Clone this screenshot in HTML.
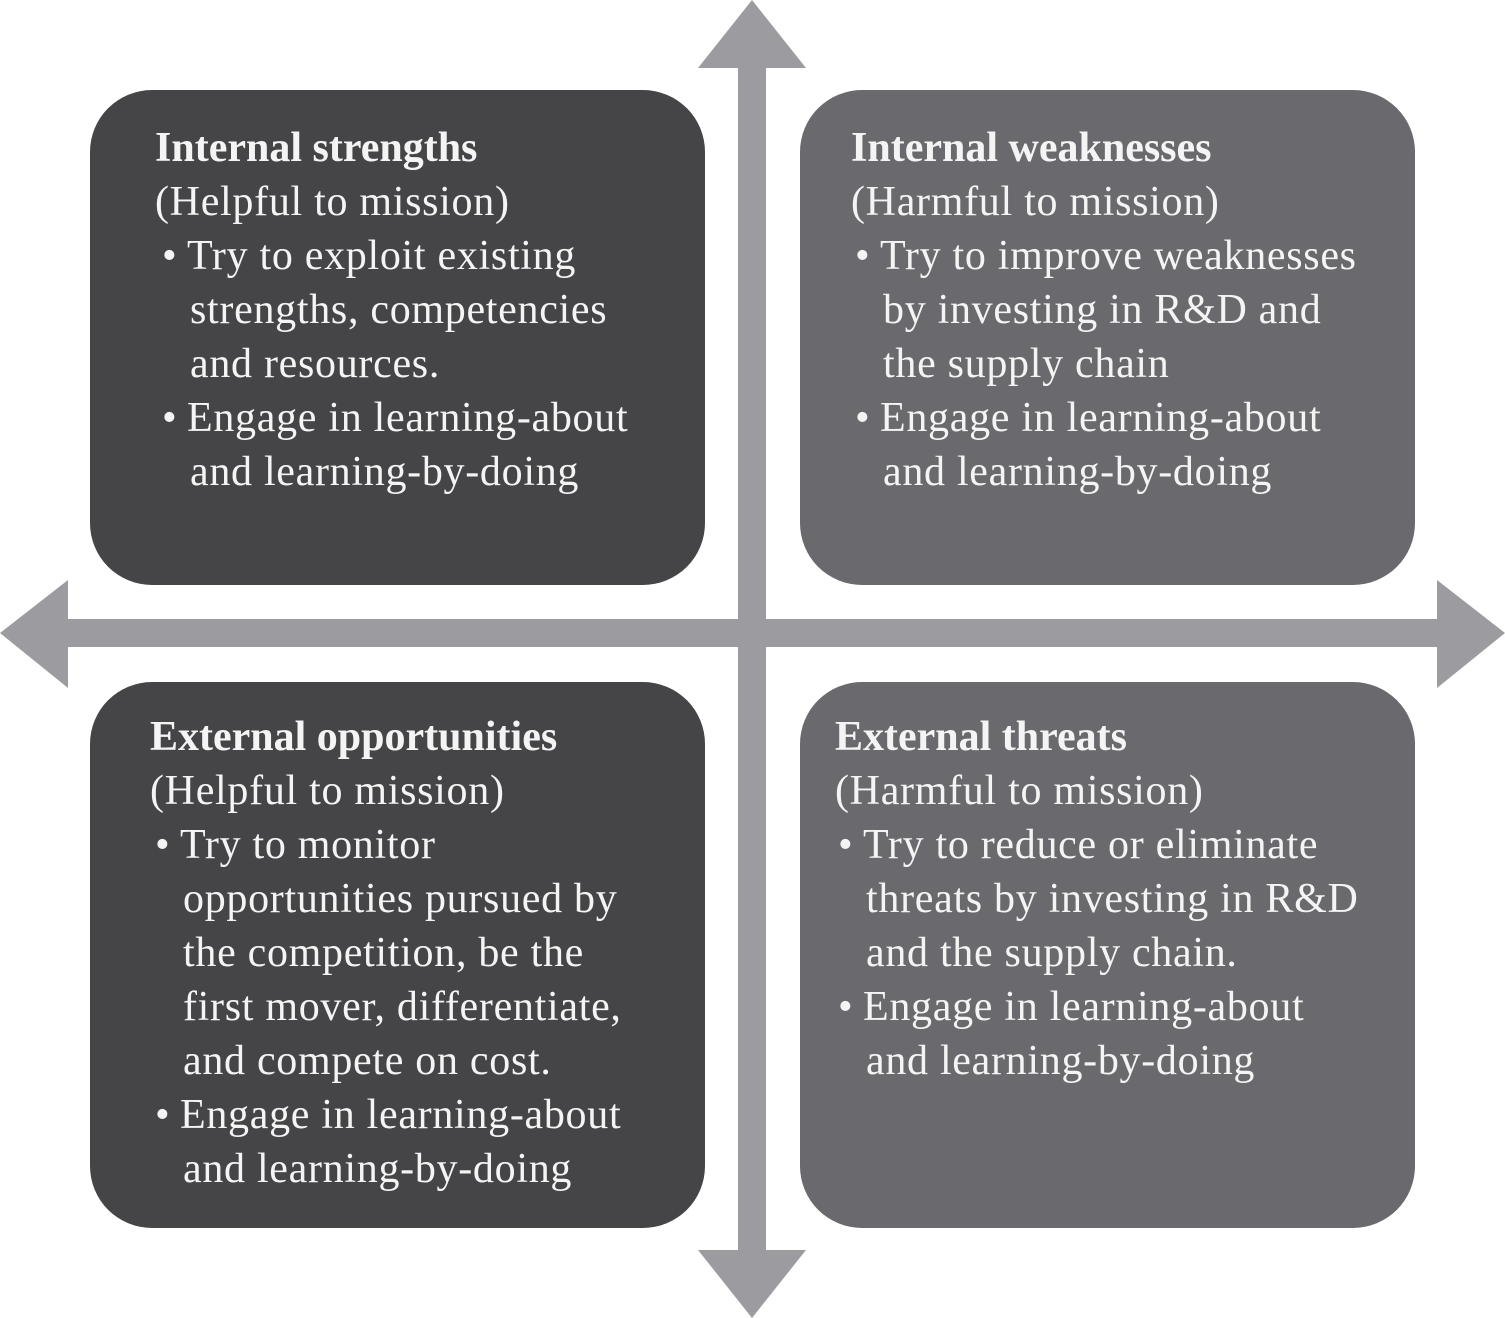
<!DOCTYPE html>
<html><head><meta charset="utf-8"><style>
body{margin:0;width:1505px;height:1318px;background:#fff;position:relative;overflow:hidden}
.t{position:absolute;color:#f4f4f4;font-family:"Liberation Serif",serif;font-size:42px;line-height:54px;white-space:nowrap;letter-spacing:0.7px}
.t b{font-weight:bold;letter-spacing:0}
.b{position:relative;display:block}
.b .d{position:absolute;left:-25px}
.c{display:block;padding-left:3px}
</style></head><body>
<svg width="1505" height="1318" style="position:absolute;left:0;top:0">
<rect x="90" y="90" width="615" height="495" rx="62" fill="#454547"/>
<rect x="800" y="90" width="615" height="495" rx="62" fill="#6a6a6e"/>
<rect x="90" y="682" width="615" height="546" rx="62" fill="#454547"/>
<rect x="800" y="682" width="615" height="546" rx="62" fill="#6a6a6e"/>
<g fill="#9c9ca0">
<rect x="738" y="60" width="28" height="1200"/>
<rect x="60" y="619" width="1385" height="28"/>
<polygon points="752,0 806,68 698,68"/>
<polygon points="752,1318 806,1250 698,1250"/>
<polygon points="0,633 68,580 68,688"/>
<polygon points="1505,633 1437,580 1437,688"/>
</g>
</svg>
<div class="t" style="left:155px;top:121px"><b>Internal strengths</b><br>(Helpful to mission)
<span class="b" style="left:32px"><span class="d">•</span>Try to exploit existing<span class="c">strengths, competencies</span><span class="c">and resources.</span></span>
<span class="b" style="left:32px"><span class="d">•</span>Engage in learning-about<span class="c">and learning-by-doing</span></span></div>
<div class="t" style="left:851px;top:121px"><b>Internal weaknesses</b><br>(Harmful to mission)
<span class="b" style="left:29px"><span class="d">•</span>Try to improve weaknesses<span class="c">by investing in R&amp;D and</span><span class="c">the supply chain</span></span>
<span class="b" style="left:29px"><span class="d">•</span>Engage in learning-about<span class="c">and learning-by-doing</span></span></div>
<div class="t" style="left:150px;top:710px"><b>External opportunities</b><br>(Helpful to mission)
<span class="b" style="left:30px"><span class="d">•</span>Try to monitor<span class="c">opportunities pursued by</span><span class="c">the competition, be the</span><span class="c">first mover, differentiate,</span><span class="c">and compete on cost.</span></span>
<span class="b" style="left:30px"><span class="d">•</span>Engage in learning-about<span class="c">and learning-by-doing</span></span></div>
<div class="t" style="left:835px;top:710px"><b>External threats</b><br>(Harmful to mission)
<span class="b" style="left:28px"><span class="d">•</span>Try to reduce or eliminate<span class="c">threats by investing in R&amp;D</span><span class="c">and the supply chain.</span></span>
<span class="b" style="left:28px"><span class="d">•</span>Engage in learning-about<span class="c">and learning-by-doing</span></span></div>
</body></html>
